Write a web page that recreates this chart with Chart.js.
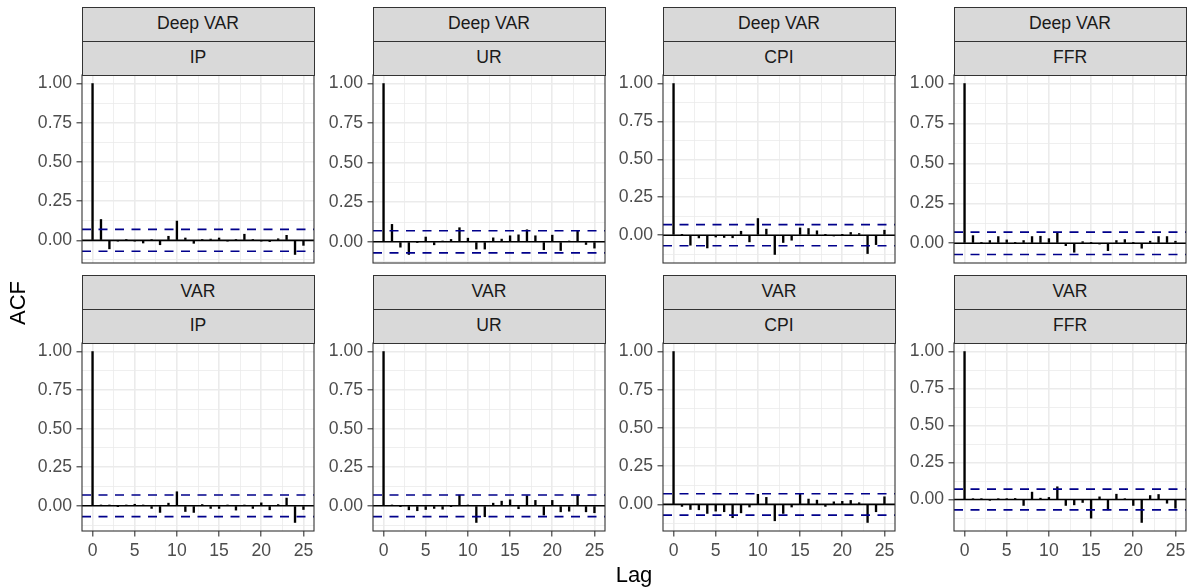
<!DOCTYPE html>
<html><head><meta charset="utf-8">
<script src="https://cdn.jsdelivr.net/npm/chart.js@4/dist/chart.umd.min.js"></script>
<style>
html,body{margin:0;padding:0;background:#fff;}
#root{position:relative;width:1193px;height:587px;overflow:hidden;font-family:"Liberation Sans",Arial,sans-serif;}
.cv{position:absolute;}
.strip{position:absolute;box-sizing:border-box;border:1.1px solid #333333;background:#D9D9D9;color:#1A1A1A;font-size:17.6px;display:flex;align-items:center;justify-content:center;line-height:1;}
.title{position:absolute;color:#000;font-size:22px;white-space:nowrap;}
</style></head><body><div id="root"></div>
<script>
// ---- data ----
const lags = [0,1,2,3,4,5,6,7,8,9,10,11,12,13,14,15,16,17,18,19,20,21,22,23,24,25];
const models = ['Deep VAR', 'VAR'];
const variables = ['IP', 'UR', 'CPI', 'FFR'];
const ciBound = 0.07;
const yTicks = [0, 0.25, 0.5, 0.75, 1];
const xTicks = [0, 5, 10, 15, 20, 25];

const deepVarIP  = [1, 0.133, -0.054, -0.005, 0.003, -0.005, -0.017, 0.005, -0.028, 0.026, 0.123, 0.015, -0.019, 0.003, 0.008, 0.015, -0.003, 0.002, 0.039, 0.002, -0.002, -0.008, 0.010, 0.032, -0.090, -0.032];
const deepVarUR  = [1, 0.110, -0.034, -0.080, -0.004, 0.030, -0.019, 0.002, 0.015, 0.089, 0.023, -0.046, -0.046, 0.025, 0.017, 0.038, 0.044, 0.076, 0.038, -0.050, 0.042, -0.055, 0.003, 0.070, -0.017, -0.040];
const deepVarCPI = [1, 0.003, -0.066, -0.018, -0.084, -0.012, -0.015, -0.017, 0.026, -0.044, 0.110, 0.040, -0.127, -0.048, -0.033, 0.048, 0.044, 0.029, 0.003, -0.003, 0.002, 0.018, 0.011, -0.121, -0.062, 0.033];
const deepVarFFR = [1, 0.048, 0.004, 0.017, 0.042, 0.021, 0.002, 0.017, 0.042, 0.044, 0.029, 0.069, -0.015, -0.056, 0.010, 0.003, -0.002, -0.046, 0.017, 0.023, 0.002, -0.031, 0.013, 0.042, 0.042, 0.013];
const varIP      = [1, 0.002, 0.003, -0.002, 0.002, 0.010, 0.003, -0.017, -0.043, 0.017, 0.091, -0.037, -0.043, 0.008, -0.017, -0.017, 0.002, -0.028, 0.002, -0.017, 0.019, -0.026, 0.008, 0.050, -0.108, -0.024];
const varUR      = [1, 0.002, -0.003, -0.026, -0.032, -0.024, -0.017, -0.022, -0.003, 0.069, 0.002, -0.108, -0.071, 0.017, 0.030, 0.039, -0.019, 0.065, 0.035, -0.060, 0.035, -0.039, -0.035, 0.069, -0.039, -0.045];
const varCPI     = [1, -0.013, -0.033, -0.035, -0.059, -0.044, -0.048, -0.087, -0.055, -0.017, 0.066, 0.046, -0.107, -0.059, -0.017, 0.070, 0.035, 0.028, -0.013, 0.017, 0.020, 0.026, 0.011, -0.118, -0.048, 0.050];
const varFFR     = [1, 0.002, 0.002, -0.002, 0.002, 0.003, 0.007, -0.040, 0.050, 0.009, 0.014, 0.086, -0.040, -0.036, -0.020, -0.126, 0.018, -0.070, 0.036, 0.002, -0.040, -0.155, 0.027, 0.034, -0.025, -0.059];

const seriesGrid = [
  [deepVarIP, deepVarUR, deepVarCPI, deepVarFFR],
  [varIP, varUR, varCPI, varFFR]
];

// ---- layout ----
const root = document.getElementById('root');
const plotLefts = [82, 373, 663, 954];
const plotW = 232, plotH = 188;
const plotTops = [75, 343];
const stripH = 34;
const FONT = '"Liberation Sans", Arial, sans-serif';

const xLo = lags[0], xHi = lags[lags.length - 1];
const xPad = (xHi - xLo) * 0.05;
const xMin = xLo - xPad, xMax = xHi + xPad;

function near(v, arr) { return arr.some(a => Math.abs(a - v) < 1e-9); }

const borderPlugin = {
  id: 'panelBorder',
  afterDraw(chart) {
    const a = chart.chartArea, c = chart.ctx;
    c.save();
    c.strokeStyle = '#333333';
    c.lineWidth = 1.1;
    c.strokeRect(a.left, a.top, a.right - a.left, a.bottom - a.top);
    c.restore();
  }
};

function makePanel(r, c) {
  const vals = seriesGrid[r][c];
  const lo = Math.min(...vals, -ciBound), hi = Math.max(...vals, ciBound);
  const yPad = (hi - lo) * 0.05;
  const yMin = lo - yPad, yMax = hi + yPad;
  const yMinor = [];
  for (let v = -0.125; v <= 1.2; v += 0.25) if (v > yMin && v < yMax) yMinor.push(v);
  const yAll = yTicks.concat(yMinor).sort((a, b) => a - b);
  const xMinor = [];
  for (let v = 2.5; v < xMax; v += 5) if (v > xMin) xMinor.push(v);
  const xAll = xTicks.concat(xMinor).sort((a, b) => a - b);

  const bottomRow = r === 1;
  const padTop = 20, padBottom = bottomRow ? 4 : 20, padRight = 12, yAxisW = 60;
  const xAxisH = bottomRow ? 32 : 0;

  const wrap = document.createElement('div');
  wrap.className = 'cv';
  const W = yAxisW + plotW + padRight, H = padTop + plotH + xAxisH + padBottom;
  wrap.style.left = (plotLefts[c] - yAxisW) + 'px';
  wrap.style.top = (plotTops[r] - padTop) + 'px';
  wrap.style.width = W + 'px';
  wrap.style.height = H + 'px';
  const cv = document.createElement('canvas');
  cv.width = W; cv.height = H;
  cv.style.width = W + 'px'; cv.style.height = H + 'px';
  wrap.appendChild(cv);
  root.appendChild(wrap);

  new Chart(cv, {
    type: 'bar',
    data: {
      datasets: [
        { type: 'line', data: [{x: xMin, y: ciBound}, {x: xMax, y: ciBound}], borderColor: '#00008B', borderWidth: 1.6, borderDash: [9, 7.5], pointRadius: 0, fill: false, order: 0 },
        { type: 'line', data: [{x: xMin, y: -ciBound}, {x: xMax, y: -ciBound}], borderColor: '#00008B', borderWidth: 1.6, borderDash: [9, 7.5], pointRadius: 0, fill: false, order: 0 },
        { type: 'line', data: [{x: xMin, y: 0}, {x: xMax, y: 0}], borderColor: '#000000', borderWidth: 1.6, pointRadius: 0, fill: false, order: 1 },
        { type: 'bar', data: lags.map((l, i) => ({x: l, y: vals[i]})), backgroundColor: '#000000', borderWidth: 0, barThickness: 1.7, order: 2 }
      ]
    },
    options: {
      responsive: false,
      animation: false,
      events: [],
      layout: { padding: { top: padTop, bottom: padBottom, left: 0, right: padRight } },
      plugins: { legend: { display: false }, tooltip: { enabled: false } },
      scales: {
        x: {
          type: 'linear', min: xMin, max: xMax, offset: false, bounds: 'data',
          afterBuildTicks: s => { s.ticks = xAll.map(v => ({value: v})); },
          afterFit: s => { s.height = xAxisH; },
          border: { display: false },
          grid: {
            offset: false,
            drawTicks: bottomRow,
            tickLength: 5.5,
            color: ctx => '#EBEBEB',
            lineWidth: ctx => (ctx.tick && near(ctx.tick.value, xTicks)) ? 1.6 : 0.8,
            tickColor: ctx => (ctx.tick && near(ctx.tick.value, xTicks)) ? '#333333' : 'rgba(0,0,0,0)',
            tickWidth: 1.1
          },
          ticks: {
            display: bottomRow, autoSkip: false, maxRotation: 0, padding: 4.4,
            color: '#4D4D4D', font: { family: FONT, size: 17.6 },
            callback: v => near(v, xTicks) ? String(v) : ''
          }
        },
        y: {
          type: 'linear', min: yMin, max: yMax, bounds: 'data',
          afterBuildTicks: s => { s.ticks = yAll.map(v => ({value: v})); },
          afterFit: s => { s.width = yAxisW; },
          border: { display: false },
          grid: {
            drawTicks: true,
            tickLength: 5.5,
            color: ctx => '#EBEBEB',
            lineWidth: ctx => (ctx.tick && near(ctx.tick.value, yTicks)) ? 1.6 : 0.8,
            tickColor: ctx => (ctx.tick && near(ctx.tick.value, yTicks)) ? '#333333' : 'rgba(0,0,0,0)',
            tickWidth: 1.1
          },
          ticks: {
            autoSkip: false, padding: 4.4,
            color: '#4D4D4D', font: { family: FONT, size: 17.6 },
            callback: v => near(v, yTicks) ? v.toFixed(2) : ''
          }
        }
      }
    },
    plugins: [borderPlugin]
  });

  // strips
  const labels = [models[r], variables[c]];
  labels.forEach((t, k) => {
    const d = document.createElement('div');
    d.className = 'strip';
    d.style.left = (plotLefts[c] - 0.5) + 'px';
    d.style.width = (plotW + 1) + 'px';
    d.style.top = (plotTops[r] - stripH * (2 - k) - 0.5) + 'px';
    d.style.height = (stripH + 1) + 'px';
    d.textContent = t;
    root.appendChild(d);
  });
}

for (let r = 0; r < 2; r++) for (let c = 0; c < 4; c++) makePanel(r, c);

const yTitle = document.createElement('div');
yTitle.className = 'title';
yTitle.textContent = 'ACF';
yTitle.style.left = '17.5px'; yTitle.style.top = '303px';
yTitle.style.transform = 'translate(-50%,-50%) rotate(-90deg)';
root.appendChild(yTitle);

const xTitle = document.createElement('div');
xTitle.className = 'title';
xTitle.textContent = 'Lag';
xTitle.style.left = '634px'; xTitle.style.top = '575px';
xTitle.style.transform = 'translate(-50%,-50%)';
root.appendChild(xTitle);
</script>
</body></html>
